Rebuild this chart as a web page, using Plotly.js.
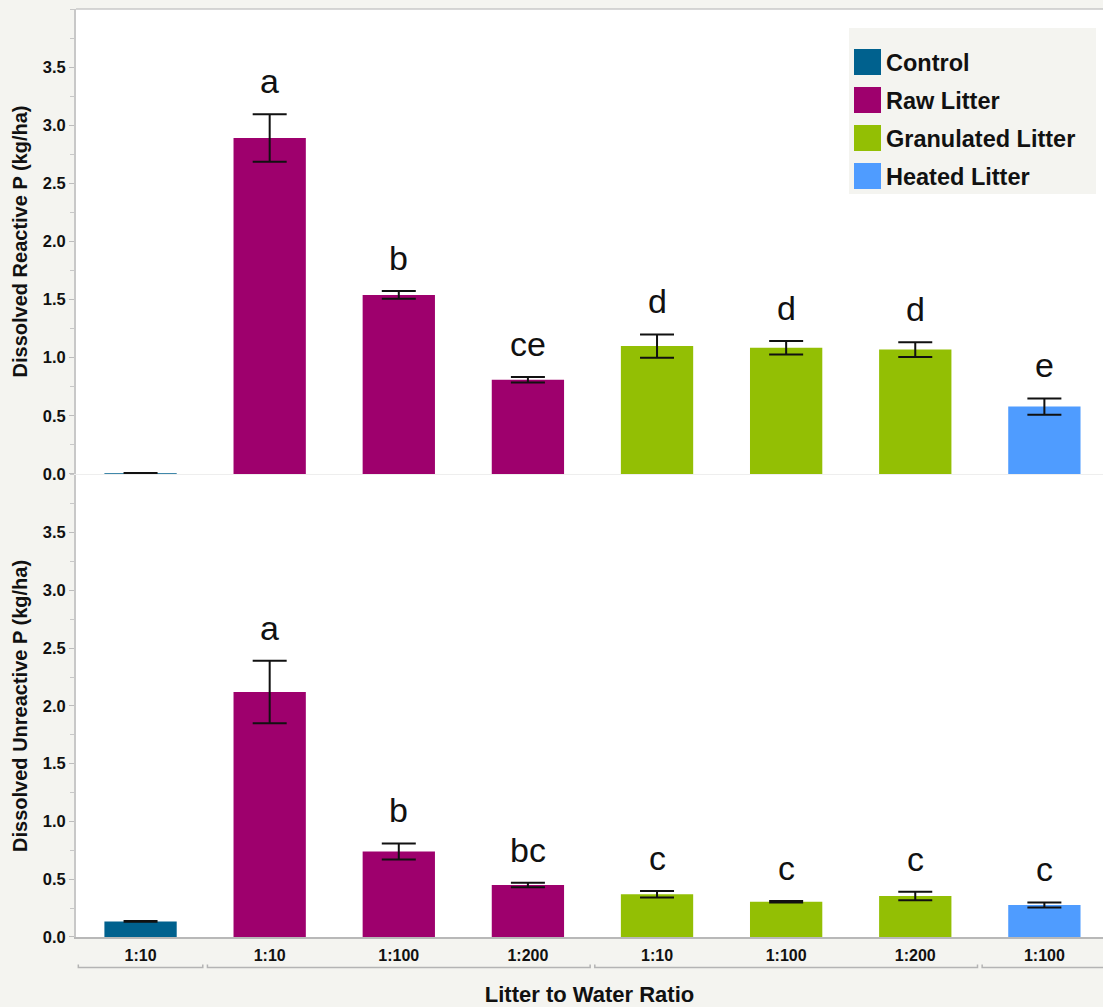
<!DOCTYPE html>
<html>
<head>
<meta charset="utf-8">
<script src="https://cdn.plot.ly/plotly-3.0.1.min.js"></script>
<style>html,body{margin:0;padding:0;background:#f4f4f0;}</style>
</head>
<body>
<div id="chart" style="width:1103px;height:1007px;"></div>
<script>
// ---- data ----
const categories = ['1:10', '1:10', '1:100', '1:200', '1:10', '1:100', '1:200', '1:100'];
const treatments = ['Control', 'Raw Litter', 'Raw Litter', 'Raw Litter', 'Granulated Litter', 'Granulated Litter', 'Granulated Litter', 'Heated Litter'];
const seriesNames = ['Control', 'Raw Litter', 'Granulated Litter', 'Heated Litter'];
const seriesColors = ['#00618e', '#9e006d', '#93bf04', '#4f9cff'];

const reactiveMean = [0.005, 2.89, 1.54, 0.81, 1.10, 1.085, 1.07, 0.58];
const reactiveErr  = [0.002, 0.205, 0.033, 0.024, 0.10, 0.058, 0.063, 0.07];
const reactiveLetters = ['', 'a', 'b', 'ce', 'd', 'd', 'd', 'e'];

const unreactiveMean = [0.135, 2.12, 0.74, 0.45, 0.37, 0.305, 0.355, 0.277];
const unreactiveErr  = [0.004, 0.27, 0.07, 0.02, 0.028, 0.007, 0.037, 0.022];
const unreactiveLetters = ['', 'a', 'b', 'bc', 'c', 'c', 'c', 'c'];

const yTitleTop = 'Dissolved Reactive P (kg/ha)';
const yTitleBottom = 'Dissolved Unreactive P (kg/ha)';
const xTitle = 'Litter to Water Ratio';

// ---- layout helpers ----
const W = 1103, H = 1007, ML = 76, MR = 0, MT = 9, MB = 70;
const PW = W - ML - MR, PH = H - MT - MB;
const px = p => (p - ML) / PW;
const py = p => (H - MB - p) / PH;
const FONT = 'Liberation Sans, Arial, Helvetica, sans-serif';

const xIdx = categories.map((_, i) => i);
const traces = [];
function addPanel(means, errs, xa, ya) {
  seriesNames.forEach((name, s) => {
    const idx = xIdx.filter(i => treatments[i] === name);
    traces.push({
      type: 'bar', name: name, showlegend: false,
      x: idx, y: idx.map(i => means[i]),
      xaxis: xa, yaxis: ya,
      marker: {color: seriesColors[s], line: {width: 0}},
      error_y: {type: 'data', array: idx.map(i => errs[i]), visible: true,
                color: '#111', thickness: 2, width: 17},
      hoverinfo: 'x+y'
    });
  });
}
addPanel(reactiveMean, reactiveErr, 'x2', 'y2');
addPanel(unreactiveMean, unreactiveErr, 'x', 'y');

const annotations = [];
function addLetters(means, errs, letters, xr, yr) {
  letters.forEach((t, i) => {
    if (!t) return;
    annotations.push({x: i, y: means[i] + errs[i], xref: xr, yref: yr, text: t,
      showarrow: false, yanchor: 'bottom', yshift: 12,
      font: {family: FONT, size: 34, color: '#111'}});
  });
}
addLetters(reactiveMean, reactiveErr, reactiveLetters, 'x2', 'y2');
addLetters(unreactiveMean, unreactiveErr, unreactiveLetters, 'x', 'y');

const shapes = [];
// top border of upper panel
shapes.push({type: 'line', xref: 'paper', yref: 'paper', x0: 0, x1: 1, y0: 1, y1: 1,
  line: {color: '#c8c8c8', width: 1.5}});
// group brackets under the category labels
const gap = 0.018;
seriesNames.forEach(name => {
  const idx = xIdx.filter(i => treatments[i] === name);
  const a = Math.min(...idx) - 0.5 + gap, b = Math.max(...idx) + 0.5 - gap;
  const yb = py(967.5), yt = py(964.5);
  shapes.push({type: 'path', xref: 'x', yref: 'paper',
    path: `M ${a},${yt} L ${a},${yb} L ${b},${yb} L ${b},${yt}`,
    line: {color: '#b4b4b4', width: 1.5}});
});
// legend panel
shapes.push({type: 'rect', xref: 'paper', yref: 'paper', x0: px(849), x1: px(1096), y0: py(194), y1: py(28),
  fillcolor: '#f4f4f0', line: {width: 0}, layer: 'above'});
seriesNames.forEach((name, s) => {
  const cy = 62 + s * 38;
  shapes.push({type: 'rect', xref: 'paper', yref: 'paper', x0: px(854), x1: px(881), y0: py(cy + 13), y1: py(cy - 13),
    fillcolor: seriesColors[s], line: {width: 0}, layer: 'above'});
  annotations.push({xref: 'paper', yref: 'paper', x: px(884), y: py(cy + 1), xanchor: 'left', yanchor: 'middle',
    text: name, showarrow: false, font: {family: FONT, size: 23.5, weight: 700, color: '#111'}});
});

const yCommon = {
  range: [0, 4.0], tickvals: [0, 0.5, 1, 1.5, 2, 2.5, 3, 3.5], tickformat: '.1f',
  ticks: 'outside', ticklen: 5, tickcolor: '#bdbdbd', tickwidth: 1,
  minor: {dtick: 0.25, ticks: 'outside', ticklen: 4, tickcolor: '#c8c8c8'},
  showgrid: false, zeroline: false, showline: true, linecolor: '#c8c8c8', linewidth: 2,
  tickfont: {family: FONT, size: 16.5, weight: 700, color: '#111'}, fixedrange: true
};

const layout = {
  width: W, height: H,
  margin: {l: ML, r: MR, t: MT, b: MB, pad: 0},
  paper_bgcolor: '#f4f4f0', plot_bgcolor: '#ffffff',
  font: {family: FONT, color: '#111'},
  bargap: 0.44, showlegend: false,
  xaxis: {domain: [0, 1], anchor: 'y', range: [-0.5, 7.454], tickvals: xIdx, ticktext: categories,
    ticks: '', showgrid: false, zeroline: false, showline: true, linecolor: '#b8b8b8', linewidth: 1.5,
    tickfont: {family: FONT, size: 16, weight: 700, color: '#111'}, ticklabelstandoff: 3,
    title: {text: xTitle, standoff: 24, font: {family: FONT, size: 22, weight: 700, color: '#111'}}},
  xaxis2: {domain: [0, 1], anchor: 'y2', matches: 'x', range: [-0.5, 7.454], showticklabels: false,
    ticks: '', showgrid: false, zeroline: false, showline: true, linecolor: '#eeeeee', linewidth: 1},
  yaxis: Object.assign({}, yCommon, {domain: [0, 0.498], anchor: 'x',
    title: {text: yTitleBottom, standoff: 10, font: {family: FONT, size: 20, weight: 700, color: '#111'}}}),
  yaxis2: Object.assign({}, yCommon, {domain: [0.499, 1], anchor: 'x2',
    title: {text: yTitleTop, standoff: 10, font: {family: FONT, size: 20, weight: 700, color: '#111'}}}),
  annotations: annotations,
  shapes: shapes
};

Plotly.newPlot('chart', traces, layout, {displayModeBar: false, staticPlot: true});
</script>
</body>
</html>
